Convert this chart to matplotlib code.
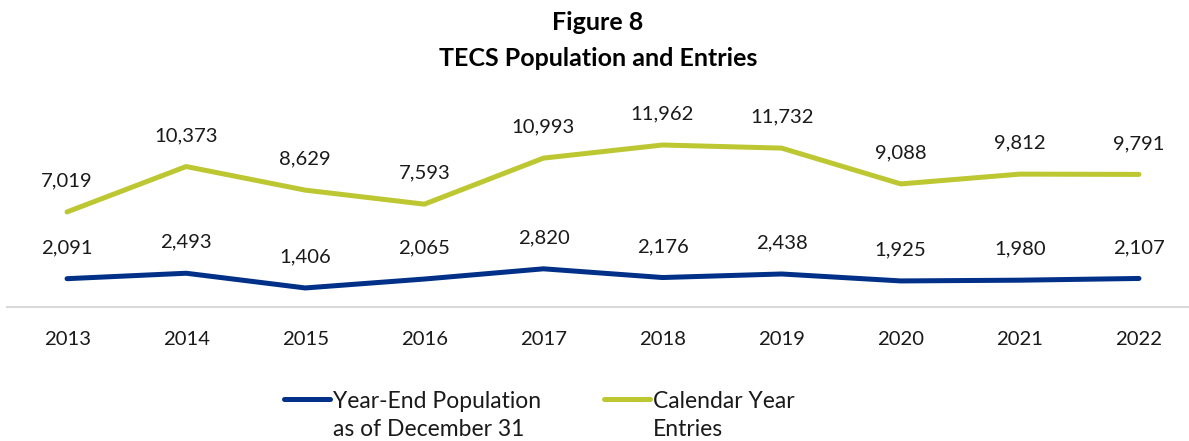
import matplotlib
matplotlib.use("Agg")
import matplotlib.pyplot as plt
from matplotlib.lines import Line2D

plt.rcParams['font.family'] = ['Lato', 'DejaVu Sans']

years = ['2013', '2014', '2015', '2016', '2017', '2018', '2019', '2020', '2021', '2022']
population = [2091, 2493, 1406, 2065, 2820, 2176, 2438, 1925, 1980, 2107]
entries = [7019, 10373, 8629, 7593, 10993, 11962, 11732, 9088, 9812, 9791]

BLUE = '#003087'
GREEN = '#BDC731'

W, H = 1189, 441
fig = plt.figure(figsize=(W / 100, H / 100), dpi=100)
ax = fig.add_axes([7.5 / W, 1 - 307 / H, 1191 / W, 189.6 / H])

x = list(range(len(years)))
ax.plot(x, population, color=BLUE, lw=3.6, solid_capstyle='round', solid_joinstyle='round')
ax.plot(x, entries, color=GREEN, lw=3.6, solid_capstyle='round', solid_joinstyle='round')

for xi, v in zip(x, population):
    ax.annotate(f"{v:,}", (xi, v), xytext=(0, 22.3), textcoords='offset points',
                ha='center', va='center', fontsize=14.6, color='#1a1a1a')
for xi, v in zip(x, entries):
    ax.annotate(f"{v:,}", (xi, v), xytext=(0, 22.3), textcoords='offset points',
                ha='center', va='center', fontsize=14.6, color='#1a1a1a')

ax.set_xlim(-0.5, 9.5)
ax.set_ylim(0, 14000)
ax.set_xticks(x)
ax.set_xticklabels(years, fontsize=14.6, color='#1a1a1a')
ax.set_yticks([])
ax.tick_params(axis='x', length=0, pad=17)
for side in ['top', 'left', 'right']:
    ax.spines[side].set_visible(False)
ax.spines['bottom'].set_color('#D9D9D9')
ax.spines['bottom'].set_linewidth(1.5)
ax.patch.set_alpha(0)

fig.text(598 / W, 1 - 22 / H, "Figure 8", ha='center', va='center',
         fontsize=18, fontweight='bold', color='black')
fig.text(598 / W, 1 - 58 / H, "TECS Population and Entries", ha='center', va='center',
         fontsize=18, fontweight='bold', color='black')

# legend, drawn by hand so the marker sits on the first text line
legend_items = [(BLUE, ["Year-End Population", "as of December 31"], 284),
                (GREEN, ["Calendar Year", "Entries"], 604)]
for color, lines, x0 in legend_items:
    fig.add_artist(Line2D([x0 / W, (x0 + 46) / W], [1 - 399 / H, 1 - 399 / H],
                          transform=fig.transFigure, color=color, lw=3.6,
                          solid_capstyle='round'))
    for i, line in enumerate(lines):
        fig.text((x0 + 49) / W, 1 - (401 + 28 * i) / H, line, ha='left', va='center',
                 fontsize=16.5, color='#1a1a1a')

fig.savefig('out.png', dpi=100)
